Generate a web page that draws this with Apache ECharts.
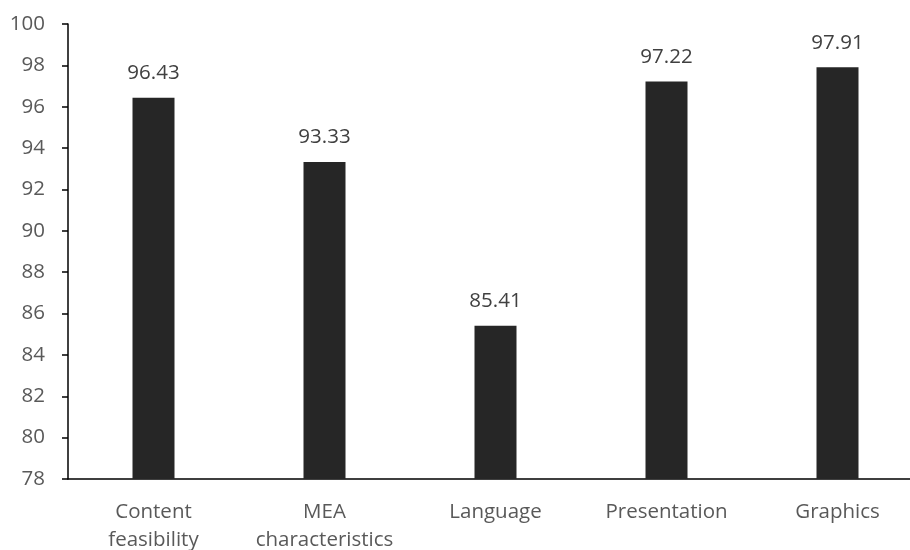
<!DOCTYPE html>
<html>
<head>
<meta charset="utf-8">
<script src="https://cdn.jsdelivr.net/npm/echarts@6/dist/echarts.min.js"></script>
<style>html,body{margin:0;padding:0;background:#fff}#c{width:910px;height:550px}</style>
</head>
<body>
<div id="c"></div>
<script>
const categories = ['Content\nfeasibility', 'MEA\ncharacteristics', 'Language', 'Presentation', 'Graphics'];
const values = [96.43, 93.33, 85.41, 97.22, 97.91];
const yMin = 78, yMax = 100, yStep = 2;

const chart = echarts.init(document.getElementById('c'), null, {renderer: 'canvas'});
const font = '"Open Sans", sans-serif';
chart.setOption({
  animation: false,
  grid: {left: 68, right: -13, top: 24, bottom: 71, containLabel: false, outerBoundsMode: 'none'},
  xAxis: {
    type: 'category',
    data: categories,
    axisLine: {lineStyle: {color: '#000', width: 1.5}},
    axisTick: {show: false},
    axisLabel: {color: '#595959', fontSize: 20.5, fontFamily: font, lineHeight: 28, margin: 19, interval: 0}
  },
  yAxis: {
    type: 'value',
    min: yMin, max: yMax, interval: yStep,
    splitLine: {show: false},
    axisLine: {show: true, lineStyle: {color: '#000', width: 1.5}},
    axisTick: {show: true, length: 6, lineStyle: {color: '#000', width: 1.5}},
    axisLabel: {color: '#595959', fontSize: 20.5, fontFamily: font, margin: 23}
  },
  series: [{
    type: 'bar',
    data: values,
    barWidth: 42,
    itemStyle: {color: '#262626'},
    label: {show: true, position: 'top', distance: 14, color: '#404040', fontSize: 20.5, fontFamily: font,
      formatter: p => p.value.toFixed(2)}
  }]
});
</script>
</body>
</html>
